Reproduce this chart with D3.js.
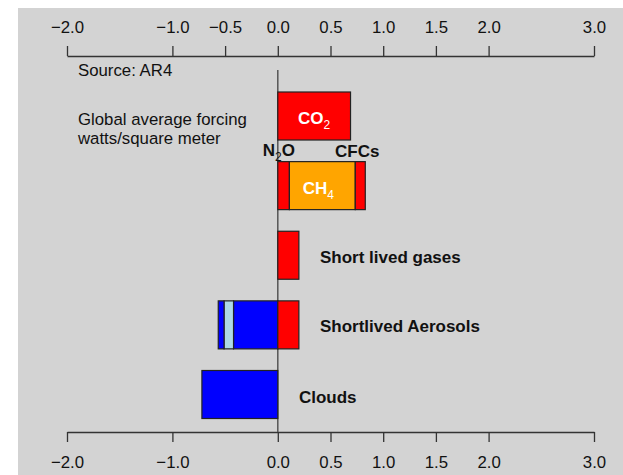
<!DOCTYPE html>
<html>
<head>
<meta charset="utf-8">
<script src="https://cdn.jsdelivr.net/npm/d3@7"></script>
<style>
  body { margin: 0; background: #fff; }
  svg { display: block; font-family: "Liberation Sans", Arial, Helvetica, sans-serif; }
</style>
</head>
<body>
<div id="chart"></div>
<script>
// Forcing values (W/m^2)
const rows = ["co2", "ch4", "shortGases", "aerosols", "clouds"];
const co2 = [0.69];
const longLived = [0.11, 0.625, 0.095];          // N2O, CH4, CFCs stacked
const longLivedColors = ["#ff0000", "#ffa500", "#ff0000"];
const shortGases = [0.2];
const aerosolPos = [0.2];
const aerosolNeg = [-0.42, -0.09, -0.055];       // stacked leftwards
const aerosolNegColors = ["#0000ff", "#add8e6", "#0000ff"];
const clouds = [-0.72];
const topTicks = [-2, -1, -0.5, 0, 0.5, 1, 1.5, 2, 3];
const bottomTicks = [-2, -1, 0, 0.5, 1, 1.5, 2, 3];

const W = 623, H = 475;
const svg = d3.select("#chart").append("svg").attr("width", W).attr("height", H);

svg.append("rect").attr("x", 18).attr("y", 8).attr("width", W - 18).attr("height", H - 8)
  .attr("fill", "#d3d3d3");

const x = d3.scaleLinear().domain([-2, 3]).range([67, 594]);
const y = d3.scalePoint().domain(rows).range([116, 394.5]);
const barH = 48;

const fmt = d3.format(".1f");

const topAxis = svg.append("g").attr("transform", "translate(0,56)")
  .call(d3.axisTop(x).tickValues(topTicks).tickFormat(fmt).tickSize(10).tickSizeOuter(0).tickPadding(13));
const botAxis = svg.append("g").attr("transform", "translate(0,432)")
  .call(d3.axisBottom(x).tickValues(bottomTicks).tickFormat(fmt).tickSize(10).tickSizeOuter(0).tickPadding(14));
[topAxis, botAxis].forEach(g => {
  g.attr("font-family", null).attr("font-size", null);
  g.selectAll("path, line").attr("stroke", "#333").attr("stroke-width", 1.3);
  g.selectAll("text").attr("fill", "#111").style("font-size", "16.8px");
});

// zero line
svg.append("line").attr("x1", x(0)).attr("x2", x(0)).attr("y1", 70).attr("y2", 432)
  .attr("stroke", "#555").attr("stroke-width", 1.5);

// build stacked segments
function stack(row, vals, colors) {
  let acc = 0;
  return vals.map((v, i) => {
    const s = { row, x0: acc, x1: acc + v, color: colors[i] };
    acc += v;
    return s;
  });
}
const segments = [
  ...stack("co2", co2, ["#ff0000"]),
  ...stack("ch4", longLived, longLivedColors),
  ...stack("shortGases", shortGases, ["#ff0000"]),
  ...stack("aerosols", aerosolNeg, aerosolNegColors),
  ...stack("aerosols", aerosolPos, ["#ff0000"]),
  ...stack("clouds", clouds, ["#0000ff"])
];

svg.append("g").selectAll("rect").data(segments).join("rect")
  .attr("x", d => x(Math.min(d.x0, d.x1)))
  .attr("width", d => Math.abs(x(d.x1) - x(d.x0)))
  .attr("y", d => y(d.row) - barH / 2)
  .attr("height", barH)
  .attr("fill", d => d.color)
  .attr("stroke", "#222")
  .attr("stroke-width", 1.2);

// text
const note = svg.append("g").attr("fill", "#111").style("font-size", "16.8px");
note.append("text").attr("x", 78).attr("y", 76).text("Source: AR4");
note.append("text").attr("x", 78).attr("y", 125).text("Global average forcing");
note.append("text").attr("x", 78).attr("y", 144).text("watts/square meter");

function subLabel(cx, cy, main, sub, fill, tail) {
  const t = svg.append("text").attr("x", cx).attr("y", cy).attr("text-anchor", "middle")
    .attr("fill", fill).style("font-size", "17px").style("font-weight", "bold");
  t.append("tspan").text(main);
  t.append("tspan").attr("dy", 5).style("font-size", "12px").style("font-weight", "normal").text(sub);
  if (tail) t.append("tspan").attr("dy", -5).text(tail);
  return t;
}
subLabel((x(0) + x(co2[0])) / 2, y("co2") + 8, "CO", "2", "#fff");
subLabel((x(longLived[0]) + x(longLived[0] + longLived[1])) / 2 - 4, y("ch4") + 8, "CH", "4", "#fff");
subLabel(x(0) + 1, 156, "N", "2", "#111", "O");
svg.append("text").attr("x", x(longLived[0] + longLived[1] + longLived[2]) - 8).attr("y", 157)
  .attr("text-anchor", "middle").attr("fill", "#111")
  .style("font-size", "17px").style("font-weight", "bold").text("CFCs");

const bold = svg.append("g").attr("fill", "#111").style("font-size", "17px").style("font-weight", "bold");
bold.append("text").attr("x", x(0.4)).attr("y", y("shortGases") + 8).text("Short lived gases");
bold.append("text").attr("x", x(0.4)).attr("y", y("aerosols") + 7).text("Shortlived Aerosols");
bold.append("text").attr("x", x(0.2)).attr("y", y("clouds") + 8).text("Clouds");
</script>
</body>
</html>
